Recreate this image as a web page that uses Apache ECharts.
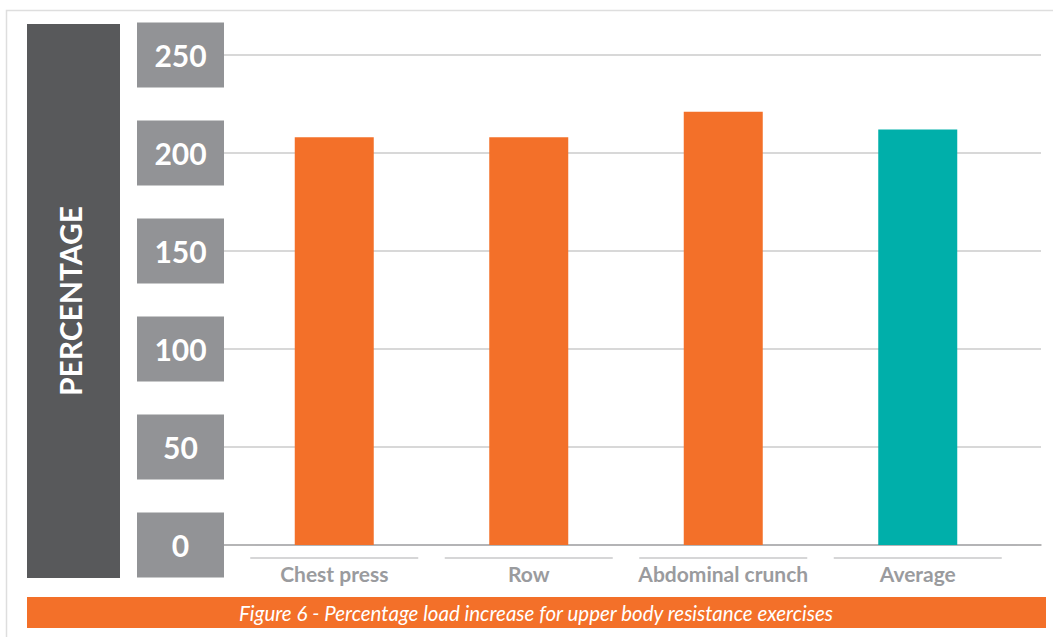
<!DOCTYPE html>
<html>
<head>
<meta charset="utf-8">
<style>
  html, body { margin: 0; padding: 0; background: #fff; }
  #chart { width: 1053px; height: 637px; }
</style>
<script src="https://cdn.jsdelivr.net/npm/echarts@6/dist/echarts.min.js"></script>
</head>
<body>
<div id="chart"></div>
<script>
// Exercise categories and their percentage load increase
const categories = ['Chest press', 'Row', 'Abdominal crunch', 'Average'];
const loadIncrease = [208, 208, 221, 212];
const barColors = ['#f37029', '#f37029', '#f37029', '#00afaa'];

// Value axis ticks
const yMin = 0;
const yMax = 250;
const yStep = 50;

const axisTitle = 'PERCENTAGE';
const caption = 'Figure 6 - Percentage load increase for upper body resistance exercises';

const FONT = 'Lato, "Open Sans", sans-serif';

const chart = echarts.init(document.getElementById('chart'), null, { renderer: 'svg' });

chart.setOption({
  backgroundColor: '#ffffff',
  animation: false,
  grid: [
    // wide grid carrying the gridlines and boxed value labels
    { left: 224, right: 12, top: 55, bottom: 92 },
    // inner grid holding the bars
    { left: 237, right: 38, top: 55, bottom: 92 }
  ],
  xAxis: [
    {
      type: 'value', gridIndex: 0, min: 0, max: 1,
      axisLine: { show: true, onZero: false, lineStyle: { color: '#a9a9ab', width: 1.5 } },
      axisTick: { show: false }, axisLabel: { show: false }, splitLine: { show: false }
    },
    {
      type: 'category', gridIndex: 1, data: categories,
      axisLine: { show: false }, axisTick: { show: false },
      axisLabel: {
        interval: 0, hideOverlap: false,
        margin: 18, fontFamily: FONT, fontWeight: 'bold', fontSize: 21, color: '#9a9b9e'
      }
    }
  ],
  yAxis: [
    {
      type: 'value', gridIndex: 0, min: yMin, max: yMax, interval: yStep,
      axisLine: { show: false }, axisTick: { show: false },
      splitLine: { lineStyle: { color: '#cbcbcb', width: 1.5 } },
      axisLabel: {
        margin: 0,
        formatter: '{b|{value}}',
        rich: {
          b: {
            width: 87, height: 65, lineHeight: 65, align: 'center', verticalAlign: 'middle',
            backgroundColor: '#929396', color: '#ffffff',
            fontFamily: FONT, fontWeight: 'bold', fontSize: 30
          }
        }
      }
    },
    {
      type: 'value', gridIndex: 1, min: yMin, max: yMax, interval: yStep,
      axisLine: { show: false }, axisTick: { show: false },
      axisLabel: { show: false }, splitLine: { show: false }
    }
  ],
  series: [
    {
      type: 'bar', xAxisIndex: 1, yAxisIndex: 1,
      barWidth: 79,
      data: loadIncrease.map((v, i) => ({ value: v, itemStyle: { color: barColors[i] } }))
    },
    {
      // short rule under each category name
      type: 'custom', xAxisIndex: 1, yAxisIndex: 1, clip: false, silent: true,
      data: categories.map((c, i) => [i, 0]),
      renderItem: function (params, api) {
        const p = api.coord([api.value(0), api.value(1)]);
        const half = 84;
        return {
          type: 'line',
          shape: { x1: p[0] - half, y1: p[1] + 13, x2: p[0] + half, y2: p[1] + 13 },
          style: { stroke: '#c8c8ca', lineWidth: 1.5 }
        };
      }
    }
  ],
  graphic: [
    // outer frame
    { type: 'polyline', shape: { points: [[6.5, 640], [6.5, 10.5], [1060, 10.5]] },
      style: { stroke: '#dedede', lineWidth: 1.5, fill: null }, silent: true },
    // dark side panel with axis title
    { type: 'rect', shape: { x: 27, y: 24, width: 93, height: 554 },
      style: { fill: '#58595b' }, silent: true },
    { type: 'text', x: 70, y: 301, rotation: Math.PI / 2,
      style: { text: axisTitle, fill: '#ffffff', font: 'bold 30px ' + FONT,
               textAlign: 'center', textVerticalAlign: 'middle' }, silent: true },
    // caption band
    { type: 'rect', shape: { x: 27, y: 597, width: 1019, height: 31 },
      style: { fill: '#f37029' }, silent: true },
    { type: 'text', x: 536, y: 612.5,
      style: { text: caption, fill: '#ffffff', font: 'italic 20.5px ' + FONT,
               textAlign: 'center', textVerticalAlign: 'middle' }, silent: true }
  ]
});
</script>
</body>
</html>
